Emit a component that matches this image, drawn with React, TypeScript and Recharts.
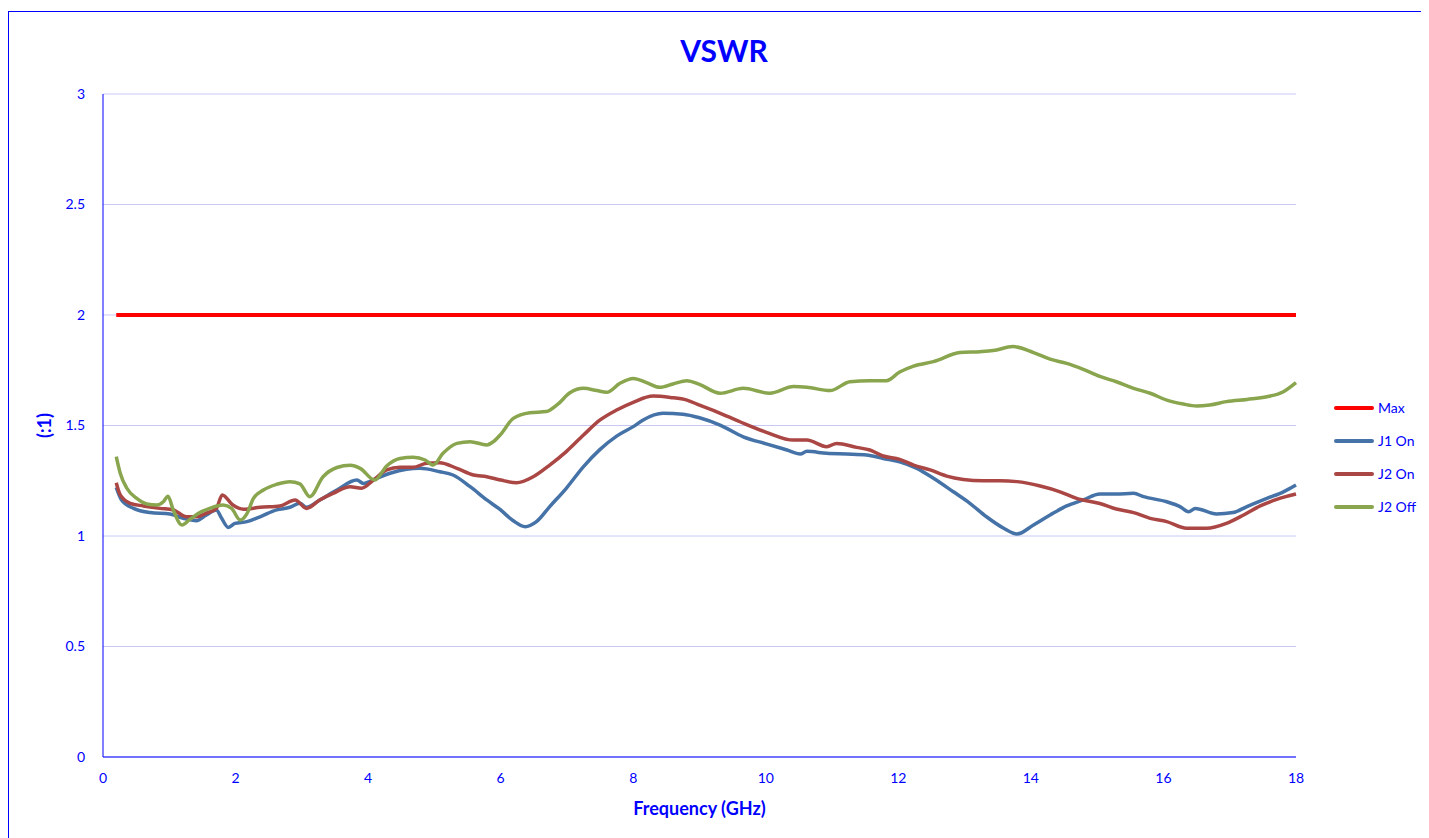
import { LineChart, Line, XAxis, YAxis, CartesianGrid } from 'recharts'

// [GHz, VSWR]
const maxLimit: [number, number][] = [[0.2, 2], [18, 2]]

const j1On: [number, number][] = [
  [0.2, 1.22], [0.28, 1.163], [0.46, 1.125], [0.71, 1.106], [1.01, 1.1], [1.21, 1.08], [1.41, 1.069],
  [1.56, 1.095], [1.71, 1.118], [1.79, 1.08], [1.89, 1.039], [1.99, 1.057], [2.17, 1.065], [2.37, 1.087],
  [2.62, 1.118], [2.82, 1.13], [2.97, 1.148], [3.07, 1.13], [3.27, 1.163], [3.53, 1.208], [3.83, 1.253],
  [3.93, 1.238], [4.13, 1.261], [4.33, 1.284], [4.58, 1.302], [4.78, 1.306], [5.08, 1.291], [5.28, 1.276],
  [5.54, 1.223], [5.79, 1.163], [5.99, 1.12], [6.19, 1.069], [6.37, 1.042], [6.54, 1.065], [6.74, 1.133],
  [6.99, 1.216], [7.25, 1.314], [7.5, 1.392], [7.75, 1.452], [8.0, 1.495], [8.15, 1.525], [8.45, 1.555],
  [8.75, 1.551], [9.0, 1.535], [9.31, 1.502], [9.66, 1.449], [10.02, 1.416], [10.32, 1.389], [10.52, 1.371],
  [10.62, 1.383], [10.92, 1.374], [11.22, 1.371], [11.52, 1.367], [11.77, 1.351], [12.02, 1.336],
  [12.28, 1.306], [12.53, 1.261], [12.83, 1.2], [13.08, 1.148], [13.33, 1.087], [13.59, 1.035],
  [13.79, 1.009], [14.04, 1.05], [14.29, 1.095], [14.54, 1.136], [14.79, 1.163], [15.04, 1.19],
  [15.29, 1.19], [15.55, 1.193], [15.7, 1.178], [16.05, 1.155], [16.25, 1.133], [16.38, 1.11],
  [16.48, 1.125], [16.8, 1.1], [17.05, 1.106], [17.26, 1.133], [17.56, 1.17], [17.81, 1.2], [18, 1.231],
]

const j2On: [number, number][] = [
  [0.2, 1.241], [0.26, 1.186], [0.41, 1.148], [0.61, 1.136], [0.86, 1.125], [1.06, 1.118], [1.26, 1.087],
  [1.41, 1.087], [1.56, 1.103], [1.71, 1.125], [1.8, 1.186], [1.96, 1.14], [2.12, 1.121], [2.37, 1.13],
  [2.67, 1.136], [2.9, 1.163], [3.07, 1.125], [3.27, 1.163], [3.47, 1.193], [3.73, 1.223], [3.9, 1.216],
  [4.08, 1.253], [4.28, 1.299], [4.48, 1.311], [4.68, 1.311], [4.88, 1.329], [5.08, 1.332], [5.34, 1.306],
  [5.59, 1.276], [5.79, 1.268], [6.0, 1.253], [6.24, 1.241], [6.49, 1.268], [6.74, 1.321], [6.99, 1.382],
  [7.25, 1.457], [7.5, 1.525], [7.75, 1.57], [8.0, 1.605], [8.3, 1.633], [8.56, 1.627], [8.81, 1.615],
  [9.0, 1.592], [9.26, 1.562], [9.61, 1.517], [10.02, 1.468], [10.42, 1.434], [10.62, 1.434], [10.92, 1.404],
  [11.07, 1.419], [11.37, 1.401], [11.57, 1.389], [11.77, 1.362], [12.02, 1.347], [12.23, 1.321],
  [12.48, 1.299], [12.73, 1.271], [12.98, 1.256], [13.28, 1.25], [13.53, 1.25], [13.79, 1.246],
  [14.14, 1.226], [14.44, 1.2], [14.69, 1.17], [15.04, 1.147], [15.29, 1.122], [15.55, 1.106], [15.8, 1.08],
  [16.05, 1.065], [16.35, 1.035], [16.65, 1.035], [16.95, 1.057], [17.21, 1.095], [17.46, 1.136],
  [17.71, 1.166], [18, 1.19],
]

const j2Off: [number, number][] = [
  [0.2, 1.359], [0.26, 1.284], [0.36, 1.216], [0.51, 1.17], [0.66, 1.145], [0.81, 1.14], [0.91, 1.155],
  [0.98, 1.18], [1.06, 1.118], [1.19, 1.05], [1.31, 1.075], [1.46, 1.106], [1.61, 1.125], [1.81, 1.14],
  [1.94, 1.125], [2.07, 1.072], [2.17, 1.1], [2.27, 1.17], [2.42, 1.208], [2.62, 1.234], [2.82, 1.246],
  [2.97, 1.236], [3.12, 1.178], [3.32, 1.268], [3.53, 1.31], [3.73, 1.32], [3.88, 1.306], [4.1, 1.253],
  [4.28, 1.317], [4.48, 1.351], [4.68, 1.356], [4.86, 1.344], [4.98, 1.321], [5.13, 1.374], [5.34, 1.419],
  [5.54, 1.427], [5.79, 1.412], [5.89, 1.427], [6.0, 1.46], [6.19, 1.532], [6.44, 1.558], [6.69, 1.563],
  [6.85, 1.593], [7.05, 1.649], [7.25, 1.668], [7.45, 1.658], [7.6, 1.65], [7.8, 1.691], [8.0, 1.713],
  [8.2, 1.694], [8.4, 1.673], [8.6, 1.688], [8.81, 1.703], [9.0, 1.686], [9.31, 1.646], [9.66, 1.668],
  [10.06, 1.646], [10.42, 1.676], [10.62, 1.673], [10.97, 1.658], [11.27, 1.698], [11.57, 1.703],
  [11.82, 1.703], [12.02, 1.742], [12.23, 1.769], [12.53, 1.789], [12.93, 1.83], [13.23, 1.834],
  [13.43, 1.839], [13.73, 1.857], [14.04, 1.83], [14.29, 1.8], [14.54, 1.781], [14.79, 1.754],
  [15.04, 1.722], [15.29, 1.698], [15.55, 1.668], [15.8, 1.646], [16.05, 1.615], [16.3, 1.597],
  [16.5, 1.588], [16.7, 1.593], [16.95, 1.608], [17.26, 1.618], [17.56, 1.63], [17.81, 1.653], [18, 1.694],
]

const xTicks = [0, 2, 4, 6, 8, 10, 12, 14, 16, 18]
const yTicks = [0, 0.5, 1, 1.5, 2, 2.5, 3]

const series = [
  { name: 'Max', points: maxLimit, color: '#FF0000' },
  { name: 'J1 On', points: j1On, color: '#4572A7' },
  { name: 'J2 On', points: j2On, color: '#AA4643' },
  { name: 'J2 Off', points: j2Off, color: '#89A54E' },
]

const font = 'Lato, "Open Sans", sans-serif'
const blue = '#0000FF'

export default function App() {
  return (
    <div style={{ position: 'relative', marginTop: 3, width: 1425, height: 840, border: `1px solid ${blue}`, background: '#fff' }}>
      <div style={{ position: 'absolute', top: 20, left: 0, width: 1430, textAlign: 'center', fontFamily: font, fontWeight: 700, fontSize: 30, color: blue }}>
        VSWR
      </div>
      <LineChart width={1425} height={830} margin={{ top: 82, right: 138, bottom: 13, left: 0 }}>
        <CartesianGrid horizontal vertical={false} stroke="#C8C8F5" />
        <XAxis
          type="number"
          dataKey="f"
          domain={[0, 18]}
          ticks={xTicks}
          allowDuplicatedCategory={false}
          stroke={blue}
          tickLine={false}
          tickSize={8}
          tickMargin={8}
          height={72}
          tick={{ fill: blue, fontSize: 14, fontFamily: font }}
          label={{ value: 'Frequency (GHz)', position: 'insideBottom', offset: 14, fill: blue, fontSize: 18, fontWeight: 700, fontFamily: font }}
        />
        <YAxis
          type="number"
          domain={[0, 3]}
          ticks={yTicks}
          stroke={blue}
          tickLine={false}
          tickSize={10}
          tickMargin={8}
          width={94}
          tick={{ fill: blue, fontSize: 14, fontFamily: font }}
          label={{ value: '(:1)', angle: -90, position: 'center', dx: -11, fill: blue, fontSize: 18, fontWeight: 700, fontFamily: font }}
        />
        {series.map((s) => (
          <Line
            key={s.name}
            name={s.name}
            data={s.points.map(([f, v]) => ({ f, v }))}
            dataKey="v"
            type="monotone"
            stroke={s.color}
            strokeWidth={s.name === 'Max' ? 4 : 3.5}
            dot={false}
            isAnimationActive={false}
          />
        ))}
      </LineChart>
      <div style={{ position: 'absolute', left: 1325, top: 379, fontFamily: font, fontSize: 14, color: blue }}>
        {series.map((s) => (
          <div key={s.name} style={{ display: 'flex', alignItems: 'center', height: 33 }}>
            <div style={{ width: 40, height: 4, background: s.color, borderRadius: 2, marginRight: 4 }} />
            <span>{s.name}</span>
          </div>
        ))}
      </div>
    </div>
  )
}
